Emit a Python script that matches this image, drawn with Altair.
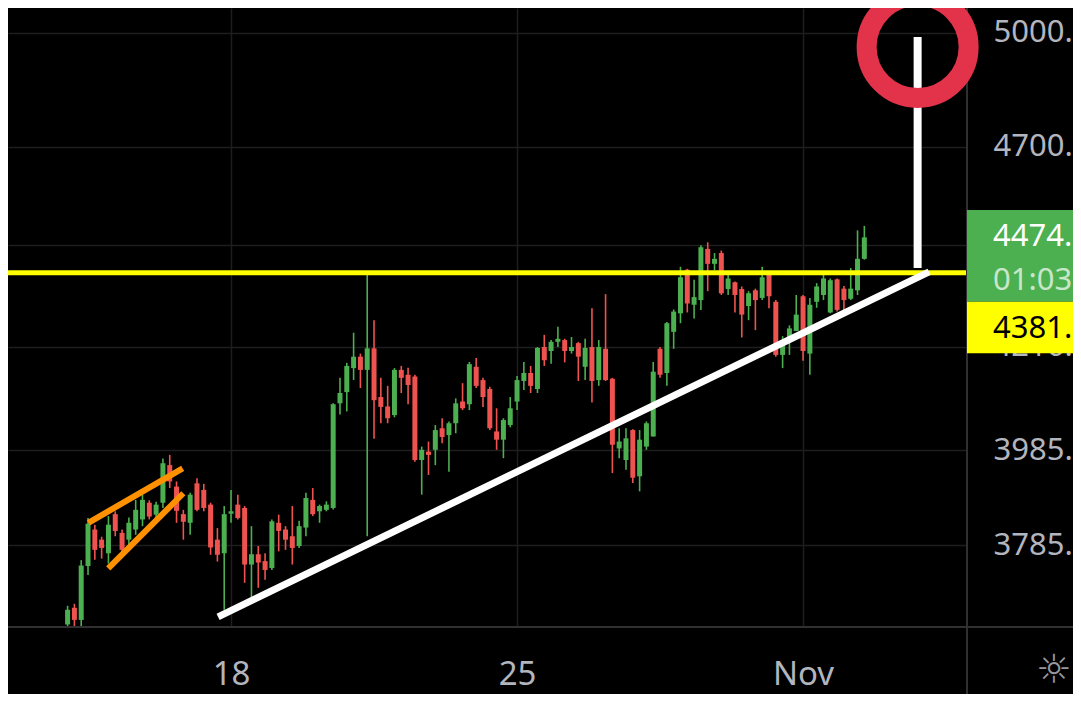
import altair as alt
import pandas as pd

FONT = "Noto Sans"
BG = "#000000"
GRID = "#1e1e1e"
BORDER = "#303030"
UP = "#4caf50"
DOWN = "#ef5350"
LABEL = "#b2b5be"
YELLOW = "#ffff00"
ORANGE = "#ff9100"
RING = "#e2334b"

# ---- 4h candles, first candle 2021-10-14 00:00 ----
start = "2021-10-14 00:00"
opens = [3625, 3658, 3634, 3742, 3817, 3796, 3768, 3849, 3810, 3796,
         3817, 3838, 3873, 3848, 3873, 3953, 3907, 3849, 3831, 3914,
         3900, 3869, 3796, 3768, 3850, 3869, 3862, 3745, 3766, 3752,
         3738, 3831, 3817, 3803, 3783, 3821, 3879, 3855, 3858, 3862,
         4088, 4113, 4167, 4193, 4163, 4212, 4102, 4081, 4062, 4163,
         4152, 4148, 3964, 3982, 3986, 4033, 4018, 4044, 4092, 4086,
         4170, 4140, 4120, 4026, 4008, 4040, 4092, 4138, 4156, 4120,
         4215, 4206, 4227, 4231, 4206, 4224, 4170, 4215, 4140, 4211,
         4143, 3989, 3964, 4029, 3929, 3993, 4015, 4211, 4156, 4250,
         4293, 4396, 4313, 4324, 4446, 4410, 4436, 4350, 4366, 4350,
         4310, 4347, 4329, 4386, 4320, 4197, 4227, 4252, 4333, 4200,
         4320, 4336, 4295, 4373, 4351, 4327, 4347, 4422]
highs = [3662, 3666, 3754, 3841, 3827, 3802, 3845, 3855, 3817, 3842,
         3879, 3890, 3878, 3875, 3967, 3975, 3918, 3858, 3894, 3925,
         3913, 3873, 3820, 3866, 3900, 3890, 3866, 3824, 3783, 3768,
         3838, 3848, 3824, 3866, 3835, 3894, 3904, 3869, 3876, 4088,
         4145, 4179, 4248, 4200, 4390, 4277, 4145, 4127, 4167, 4172,
         4168, 4152, 3993, 4004, 4040, 4055, 4048, 4099, 4133, 4181,
         4190, 4145, 4125, 4077, 4055, 4102, 4149, 4181, 4172, 4215,
         4243, 4231, 4262, 4234, 4238, 4227, 4234, 4305, 4231, 4338,
         4145, 4033, 4033, 4031, 4029, 4048, 4181, 4215, 4273, 4302,
         4403, 4398, 4372, 4455, 4462, 4436, 4442, 4388, 4368, 4356,
         4345, 4351, 4403, 4393, 4324, 4240, 4265, 4336, 4336, 4329,
         4364, 4388, 4375, 4375, 4357, 4400, 4491, 4502]
lows = [3605, 3615, 3620, 3724, 3755, 3757, 3747, 3803, 3765, 3783,
        3806, 3824, 3838, 3831, 3862, 3904, 3831, 3796, 3806, 3855,
        3855, 3765, 3751, 3654, 3831, 3838, 3708, 3677, 3698, 3714,
        3734, 3772, 3775, 3745, 3779, 3803, 3845, 3831, 3855, 3859,
        4063, 4070, 4140, 4122, 3803, 4010, 4044, 4044, 4057, 4111,
        4086, 3960, 3890, 3932, 3953, 4000, 3939, 4022, 4073, 4073,
        4122, 4080, 4029, 3986, 3968, 4035, 4073, 4118, 4111, 4111,
        4172, 4177, 4215, 4180, 4200, 4138, 4140, 4090, 4127, 4138,
        3936, 3968, 3943, 3915, 3897, 3986, 4015, 4145, 4127, 4211,
        4270, 4295, 4281, 4301, 4345, 4395, 4336, 4336, 4295, 4237,
        4277, 4254, 4324, 4305, 4193, 4167, 4197, 4252, 4184, 4152,
        4306, 4324, 4293, 4297, 4301, 4324, 4336, 4420]
closes = [3654, 3634, 3743, 3829, 3775, 3779, 3827, 3814, 3775, 3831,
          3858, 3879, 3844, 3869, 3957, 3918, 3856, 3833, 3890, 3858,
          3862, 3780, 3765, 3849, 3855, 3841, 3745, 3766, 3749, 3734,
          3834, 3814, 3796, 3779, 3824, 3883, 3849, 3866, 3869, 4086,
          4111, 4172, 4193, 4163, 4212, 4095, 4080, 4055, 4163, 4145,
          4129, 3964, 3986, 3975, 4029, 4014, 4044, 4088, 4077, 4176,
          4127, 4102, 4033, 4008, 4051, 4077, 4140, 4156, 4127, 4213,
          4185, 4227, 4234, 4206, 4215, 4193, 4213, 4138, 4215, 4140,
          3997, 4004, 4011, 3926, 4008, 4044, 4159, 4152, 4270, 4297,
          4378, 4316, 4331, 4450, 4410, 4422, 4340, 4375, 4336, 4290,
          4340, 4324, 4378, 4333, 4197, 4231, 4258, 4290, 4206, 4313,
          4356, 4375, 4371, 4301, 4324, 4351, 4422, 4474]

# axis ticks (hours from 18 Oct 00:00) and price levels
x_ticks = [0, 168, 336]
x_labels = ["18", "25", "Nov"]
y_ticks = [3785, 3985, 4216, 4455, 4700, 5000]
y_hidden = [4455]          # label covered by the last-price tag
x_domain = [-131.0, 432.3]
y_domain = [3620, 5068]

# drawings (hours, price)
orange_x1 = [-83.8, -72.1]
orange_y1 = [3831, 3737]
orange_x2 = [-28.4, -28.0]
orange_y2 = [3946, 3893]
trend_x = [-7.6, 410.0]
trend_y = [3640, 4391]
target_x = 403.3
target_y = [4400, 4989]
ring_y = 4962
level = 4389
level_text = "4381."
timer_text = "01:03"

W, H = 959, 619
TOTAL_W, TOTAL_H = 1065, 686

times = pd.date_range(start, periods=len(opens), freq="4h")
ref = pd.Timestamp("2021-10-18 00:00")
hours = ((times - ref) / pd.Timedelta(hours=1)).tolist()
candles = pd.DataFrame({"h": hours, "open": opens, "high": highs,
                        "low": lows, "close": closes})
candles["color"] = [UP if c >= o else DOWN for o, c in zip(opens, closes)]

xs = alt.Scale(domain=x_domain, nice=False, zero=False, padding=0)
ys = alt.Scale(type="log", domain=y_domain, nice=False, zero=False, padding=0)

expr = "''"
for v, lab in reversed(list(zip(x_ticks, x_labels))):
    expr = f"datum.value == {v} ? '{lab}' : ({expr})"

yexpr = "format(datum.value, 'd') + '.'"
for v in y_hidden:
    yexpr = f"datum.value == {v} ? '' : ({yexpr})"

xaxis = alt.Axis(values=x_ticks, labelExpr=expr, grid=True, gridColor=GRID,
                 gridWidth=1.5, ticks=False, tickSize=0, domain=False,
                 labelFont=FONT, labelFontSize=33, labelColor=LABEL,
                 labelPadding=47, labelBaseline="middle", labelAlign="center",
                 labelFlush=False, labelOverlap=False, title=None)
yaxis = alt.Axis(orient="right", values=y_ticks, labelExpr=yexpr, grid=True,
                 gridColor=GRID, gridWidth=1.5, ticks=False, tickSize=0,
                 domain=False, labelFont=FONT, labelFontSize=31,
                 labelColor=LABEL, labelPadding=26, labelAlign="left",
                 labelBaseline="middle", labelFlush=False,
                 labelOverlap=False, title=None)


def X(field):
    return alt.X(field, scale=xs, axis=xaxis)


def Y(field):
    return alt.Y(field, scale=ys, axis=yaxis)


wicks = alt.Chart(candles).mark_rule(strokeWidth=1.6, clip=True).encode(
    x=X("h:Q"), y=Y("low:Q"), y2="high:Q",
    color=alt.Color("color:N", scale=None),
)
bodies = alt.Chart(candles).mark_bar(size=5, clip=True).encode(
    x=X("h:Q"), y=Y("open:Q"), y2="close:Q",
    color=alt.Color("color:N", scale=None),
)

level_line = alt.Chart(pd.DataFrame({"p": [level]})).mark_rule(
    color=YELLOW, strokeWidth=5).encode(y=Y("p:Q"))

orange = alt.Chart(pd.DataFrame({"x1": orange_x1, "y1": orange_y1,
                                 "x2": orange_x2, "y2": orange_y2})).mark_rule(
    color=ORANGE, strokeWidth=6, strokeCap="butt").encode(
    x=X("x1:Q"), x2="x2:Q", y=Y("y1:Q"), y2="y2:Q")

trend = alt.Chart(pd.DataFrame({"x1": [trend_x[0]], "y1": [trend_y[0]],
                                "x2": [trend_x[1]], "y2": [trend_y[1]]})).mark_rule(
    color="white", strokeWidth=7, strokeCap="butt").encode(
    x=X("x1:Q"), x2="x2:Q", y=Y("y1:Q"), y2="y2:Q")

target = alt.Chart(pd.DataFrame({"x": [target_x], "y1": [target_y[0]],
                                 "y2": [target_y[1]]})).mark_rule(
    color="white", strokeWidth=8, strokeCap="butt").encode(
    x=X("x:Q"), y=Y("y1:Q"), y2="y2:Q")

one = pd.DataFrame({"a": [0]})
border_v = alt.Chart(one).mark_rule(color=BORDER, strokeWidth=2).encode(
    x=alt.value(W), y=alt.value(0), y2=alt.value(TOTAL_H))
border_h = alt.Chart(one).mark_rule(color=BORDER, strokeWidth=2).encode(
    y=alt.value(H), x=alt.value(0), x2=alt.value(TOTAL_W))

green_box = alt.Chart(one).mark_rect(color=UP).encode(
    x=alt.value(W), x2=alt.value(TOTAL_W), y=alt.value(202), y2=alt.value(293.7))
yellow_box = alt.Chart(one).mark_rect(color=YELLOW).encode(
    x=alt.value(W), x2=alt.value(TOTAL_W), y=alt.value(293.7), y2=alt.value(345.3))

last = pd.DataFrame({"p": [closes[-1]], "t": [f"{closes[-1]}."], "timer": [timer_text]})
price_txt = alt.Chart(last).mark_text(
    align="left", baseline="middle", font=FONT, fontSize=31, color="white").encode(
    x=alt.value(985), y=Y("p:Q"), text="t:N")
timer_txt = alt.Chart(last).mark_text(
    align="left", baseline="middle", font=FONT, fontSize=31, color="#c8e6c9",
    dy=44).encode(
    x=alt.value(985), y=Y("p:Q"), text="timer:N")
level_txt = alt.Chart(pd.DataFrame({"t": [level_text]})).mark_text(
    align="left", baseline="middle", font=FONT, fontSize=31, color="black").encode(
    x=alt.value(985), y=alt.value(321), text="t:N")

ring = alt.Chart(pd.DataFrame({"x": [target_x], "y": [ring_y]})).mark_point(
    shape="circle", filled=False, size=10404, stroke=RING, strokeWidth=20,
    opacity=1, clip=False).encode(x=X("x:Q"), y=Y("y:Q"))

gear = alt.Chart(pd.DataFrame({"t": ["\u263c"]})).mark_text(
    font="DejaVu Sans", fontSize=40, color="#9598a1", align="center",
    baseline="middle").encode(x=alt.value(1046), y=alt.value(663), text="t:N")

chart = alt.layer(
    wicks, bodies, level_line, orange, trend, target,
    border_v, border_h, green_box, yellow_box,
    price_txt, timer_txt, level_txt, ring, gear,
).properties(
    width=W, height=H,
    autosize=alt.AutoSizeParams(type="none"),
    padding={"left": 0, "top": 0, "right": TOTAL_W - W, "bottom": TOTAL_H - H},
    background=BG,
).configure_view(stroke=None)

chart.save("out.html", embed_options={"renderer": "svg", "actions": False})
